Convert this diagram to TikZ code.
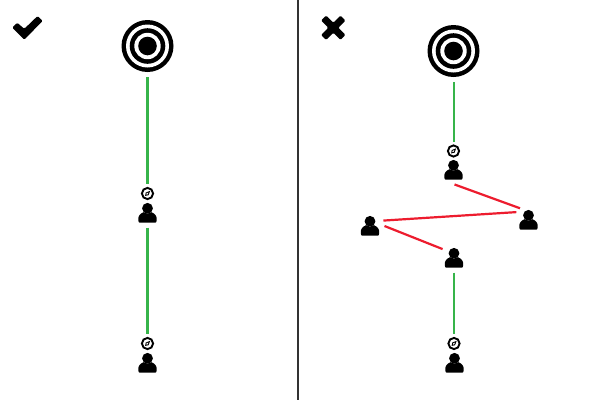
\documentclass[tikz,border=0pt]{standalone}
\usepackage{xcolor}
\definecolor{okgreen}{HTML}{36B44A}
\definecolor{badred}{HTML}{ED1C2E}
\definecolor{divider}{HTML}{333333}

\tikzset{
    iconbox/.style={circle, minimum size=29pt, inner sep=0pt, outer sep=0pt},
    compassbox/.style={circle, minimum size=19pt, inner sep=0pt, outer sep=0pt},
    goalbox/.style={circle, minimum size=62pt, inner sep=0pt, outer sep=0pt},
    goodline/.style={okgreen, line width=3.2pt},
    goodthin/.style={okgreen, line width=2pt},
    badline/.style={badred, line width=2.2pt},
    person/.pic={
        \fill (0,-4.7) circle (5.4);
        \fill (-9.2,7.5) .. controls (-9.6,2.6) and (-7.5,0.9) .. (-4,-0.8)
            .. controls (-1.5,1.2) and (1.5,1.2) .. (4,-0.8)
            .. controls (7.5,0.9) and (9.6,2.6) .. (9.2,7.5)
            .. controls (9.2,9.3) and (8.2,9.7) .. (7.5,9.7)
            -- (-7.5,9.7) .. controls (-8.2,9.7) and (-9.2,9.3) .. (-9.2,7.5) -- cycle;
    },
    compass/.pic={
        \draw[line width=1.9pt, fill=white] (0,0) circle (5.6);
        \draw[line width=0.9pt] (-1.8,1.8) -- (-1.4,-0.6) -- (1.9,-1.9) -- (0.7,1.3) -- cycle;
    },
    target/.pic={
        \fill (0,0) circle (26);
        \fill[white] (0,0) circle (21.5);
        \fill (0,0) circle (17.8);
        \fill[white] (0,0) circle (13.2);
        \fill (0,0) circle (9.3);
    }
}

\begin{document}
\begin{tikzpicture}[x=1pt, y=-1pt]
\useasboundingbox (0,0) rectangle (600,400);
\fill[white] (0,0) rectangle (600,400);

% Divider between the two panels
\draw[divider, line width=1.6pt] (298,0) -- (298,400);

% Tick and cross
\fill[rounded corners=1.2pt] (12.2,27.7) -- (17.2,22.7) -- (24.3,28.8) -- (37.6,16)
    -- (42.7,20.9) -- (24.3,39.6) -- cycle;
\fill[rounded corners=1.2pt, shift={(333.3,27.7)}] (-12.2,-7.2) -- (-7.2,-12.2) -- (0,-5) -- (7.2,-12.2)
    -- (12.2,-7.2) -- (5,0) -- (12.2,7.2) -- (7.2,12.2) -- (0,5) -- (-7.2,12.2) -- (-12.2,7.2) -- (-5,0) -- cycle;

% Targets
\foreach \name/\x/\y in {goalA/147.5/46, goalB/453.5/51} {
    \node[goalbox] (\name) at (\x,\y) {};
    \pic at (\name) {target};
}

% Compass marks
\foreach \name/\x/\y in {markA/147.5/193.5, markB/147.5/343.5, markC/453.5/151, markD/454/343.5} {
    \node[compassbox] (\name) at (\x,\y) {};
    \pic at (\name) {compass};
}

% People
\foreach \name/\x/\y in {userA/147.5/213, userB/147.5/363, userC/453.5/170, userD/528.5/220, userE/370/226, userF/454/258, userG/454.5/363} {
    \node[iconbox] (\name) at (\x,\y) {};
    \pic at (\name) {person};
}

% Straight route
\draw[goodline] (goalA.south) -- (markA.north);
\draw[goodline] (userA.south) -- (markB.north);

% Route with detours
\draw[goodthin] (goalB.south) -- (markC.north);
\draw[badline] (userC.-86) -- (userD.126);
\draw[badline] (userD.147) -- (userE.22);
\draw[badline] (userE.0) -- (userF.142);
\draw[goodthin] (userF.south) -- (markD.north);
\end{tikzpicture}
\end{document}
